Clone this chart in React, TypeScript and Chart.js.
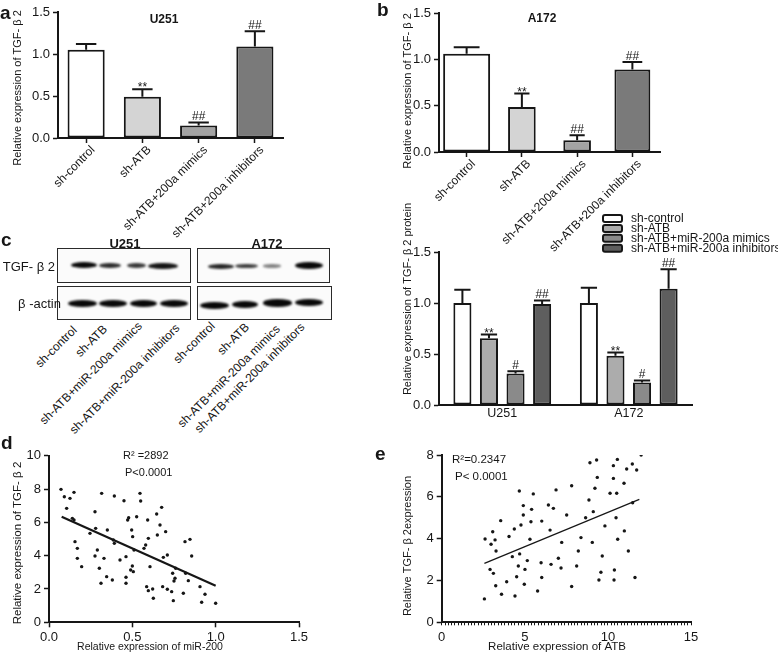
import React, { useEffect, useRef } from "react";
import { Chart, registerables } from "chart.js";

Chart.register(...registerables);

const FONT = '"Liberation Sans", Arial, Helvetica, sans-serif';
const INK = "#161616";
Chart.defaults.font.family = FONT;
Chart.defaults.color = INK;

// ---------------- data ----------------
const rnaGroups = ["sh-control", "sh-ATB", "sh-ATB+200a mimics", "sh-ATB+200a inhibitors"];
const rnaYTicks = [0, 0.5, 1.0, 1.5];

const u251Rna = [1.05, 0.49, 0.15, 1.09];
const u251RnaErr = [0.07, 0.09, 0.035, 0.18];
const u251RnaMarks = ["", "**", "##", "##"];

const a172Rna = [1.06, 0.485, 0.126, 0.89];
const a172RnaErr = [0.07, 0.145, 0.055, 0.08];
const a172RnaMarks = ["", "**", "##", "##"];

const proteinCells = ["U251", "A172"];
const proteinGroups = ["sh-control", "sh-ATB", "sh-ATB+miR-200a mimics", "sh-ATB+miR-200a inhibitors"];
const proteinControl = [1.0, 1.0];
const proteinShATB = [0.655, 0.484];
const proteinMimics = [0.31, 0.22];
const proteinInhibitors = [0.99, 1.14];
const proteinControlErr = [0.13, 0.15];
const proteinShATBErr = [0.035, 0.03];
const proteinMimicsErr = [0.02, 0.02];
const proteinInhibitorsErr = [0.035, 0.19];
const proteinControlMarks = ["", ""];
const proteinShATBMarks = ["**", "**"];
const proteinMimicsMarks = ["#", "#"];
const proteinInhibitorsMarks = ["##", "##"];

// western blot band intensities (relative darkness)
const tgfU251Band = [1.0, 0.85, 0.8, 0.95];
const actinU251Band = [1, 1, 1, 1];
const tgfA172Band = [0.88, 0.78, 0.5, 1.0];
const actinA172Band = [1, 1, 1, 1];

// panel d scatter
const dX = [0.072, 0.092, 0.106, 0.126, 0.15, 0.14, 0.15, 0.17, 0.196, 0.156, 0.17, 0.246, 0.276, 0.28, 0.29, 0.276, 0.302, 0.312, 0.316, 0.33, 0.35, 0.346, 0.38, 0.392, 0.386, 0.392, 0.426, 0.45, 0.462, 0.462, 0.462, 0.472, 0.478, 0.49, 0.496, 0.502, 0.5, 0.51, 0.506, 0.526, 0.546, 0.55, 0.57, 0.58, 0.592, 0.596, 0.586, 0.596, 0.606, 0.622, 0.626, 0.646, 0.65, 0.666, 0.676, 0.686, 0.682, 0.7, 0.71, 0.71, 0.736, 0.742, 0.75, 0.756, 0.746, 0.76, 0.806, 0.816, 0.82, 0.836, 0.846, 0.856, 0.906, 0.916, 0.936, 1.0];
const dY = [7.98, 7.54, 6.84, 7.44, 7.8, 6.24, 6.14, 3.84, 3.34, 4.84, 4.44, 5.34, 6.64, 5.64, 4.34, 3.98, 3.24, 2.34, 7.74, 3.84, 5.54, 2.74, 2.54, 7.58, 4.94, 4.74, 3.74, 7.3, 3.94, 2.7, 2.34, 6.14, 6.28, 3.14, 5.54, 5.14, 3.38, 4.34, 3.04, 6.34, 7.74, 7.28, 4.44, 4.64, 6.14, 5.04, 2.14, 1.9, 3.34, 2.0, 1.44, 6.5, 5.24, 5.84, 6.9, 3.9, 2.14, 5.44, 4.04, 1.98, 1.84, 2.94, 2.48, 2.64, 1.3, 3.24, 1.74, 4.84, 2.94, 2.5, 4.98, 3.98, 2.14, 1.2, 1.68, 1.14];
const dFitX = [0.076, 1.0];
const dFitY = [6.34, 2.2];
const dXTicks = [0, 0.5, 1.0, 1.5];
const dYTicks = [0, 2, 4, 6, 8, 10];

// panel e scatter
const eX = [2.57, 2.61, 2.91, 2.97, 3.07, 3.11, 3.21, 3.27, 3.25, 3.55, 3.6, 3.91, 4.05, 4.25, 4.37, 4.41, 4.51, 4.61, 4.67, 4.69, 4.77, 4.91, 4.91, 4.97, 5.01, 5.15, 5.31, 5.37, 5.41, 5.51, 5.77, 5.98, 6.02, 6.02, 6.42, 6.52, 6.58, 6.72, 6.88, 7.02, 7.22, 7.18, 7.52, 7.82, 7.82, 8.12, 8.22, 8.38, 8.66, 8.86, 8.92, 9.06, 9.12, 9.22, 9.32, 9.36, 9.46, 9.58, 9.66, 9.82, 10.13, 10.33, 10.33, 10.37, 10.39, 10.49, 10.53, 10.57, 10.59, 10.97, 10.99, 11.13, 11.23, 11.47, 11.49, 11.63, 11.73, 12.0];
const eY = [1.12, 3.98, 2.53, 3.73, 4.33, 2.34, 3.94, 3.41, 1.75, 4.86, 1.34, 1.94, 4.1, 3.14, 4.46, 1.26, 2.18, 2.69, 6.28, 3.27, 4.65, 5.58, 5.13, 1.82, 2.53, 2.95, 3.97, 4.81, 5.4, 6.14, 1.5, 2.85, 4.84, 2.14, 5.61, 4.41, 2.77, 5.45, 6.33, 3.06, 3.82, 2.6, 5.13, 1.71, 6.53, 2.69, 3.41, 4.05, 5.0, 5.85, 7.63, 3.82, 5.29, 6.41, 7.76, 6.93, 2.02, 2.39, 3.17, 4.61, 6.17, 7.49, 6.88, 2.02, 2.5, 5.0, 6.17, 7.79, 3.97, 6.65, 4.37, 7.33, 3.41, 7.57, 5.72, 2.14, 7.28, 8.0];
const eFitX = [2.57, 11.89];
const eFitY = [2.82, 5.88];
const eXTicks = [0, 5, 10, 15];
const eYTicks = [0, 2, 4, 6, 8];

// ---------------- styles ----------------
const rnaColors = ["#ffffff", "#d4d4d4", "#a3a3a3", "#7a7a7a"];
const proteinColors = ["#ffffff", "#acacac", "#8a8a8a", "#5e5e5e"];

// ---------------- plugin ----------------
const extrasPlugin = {
  id: "extras",
  afterDraw(chart: any, _args: any, opts: any) {
    const ctx = chart.ctx as CanvasRenderingContext2D;
    const yScale = chart.scales.y;
    if (opts.errors) {
      chart.data.datasets.forEach((ds: any, di: number) => {
        const meta = chart.getDatasetMeta(di);
        const errs = opts.errors[di] || [];
        const marks = (opts.marks && opts.marks[di]) || [];
        meta.data.forEach((el: any, i: number) => {
          const v = ds.data[i];
          if (v == null || errs[i] == null) return;
          const p = el.getProps(["x", "y", "width"], true);
          const yTop = yScale.getPixelForValue(v + errs[i]);
          const half = (p.width * (opts.capRatio ?? 0.5)) / 2;
          ctx.save();
          ctx.strokeStyle = INK;
          ctx.lineWidth = opts.errWidth ?? 2;
          ctx.beginPath();
          ctx.moveTo(p.x, p.y);
          ctx.lineTo(p.x, yTop);
          ctx.moveTo(p.x - half, yTop);
          ctx.lineTo(p.x + half, yTop);
          ctx.stroke();
          const m = marks[i];
          if (m) {
            ctx.fillStyle = INK;
            ctx.font = `${opts.markSize ?? 12}px ${FONT}`;
            ctx.textAlign = "center";
            ctx.textBaseline = "alphabetic";
            const dy = m.includes("*") ? 2 : -2.5;
            ctx.fillText(m, p.x, yTop + dy);
          }
          ctx.restore();
        });
      });
    }
    for (const t of opts.texts || []) {
      ctx.save();
      ctx.fillStyle = INK;
      ctx.font = `${t.bold ? "bold " : ""}${t.size}px ${FONT}`;
      ctx.textAlign = t.align || "center";
      ctx.textBaseline = "middle";
      ctx.translate(t.x, t.y);
      if (t.rotate) ctx.rotate((t.rotate * Math.PI) / 180);
      ctx.fillText(t.text, 0, 0);
      ctx.restore();
    }
    if (opts.legend) {
      const L = opts.legend;
      chart.data.datasets.forEach((ds: any, i: number) => {
        const cy = L.y0 + i * L.dy;
        ctx.save();
        ctx.fillStyle = ds.backgroundColor;
        ctx.strokeStyle = INK;
        ctx.lineWidth = 2;
        ctx.beginPath();
        (ctx as any).roundRect(L.x, cy - L.boxH / 2, L.boxW, L.boxH, 2);
        ctx.fill();
        ctx.stroke();
        ctx.fillStyle = INK;
        ctx.font = `${L.size}px ${FONT}`;
        ctx.textAlign = "left";
        ctx.textBaseline = "middle";
        ctx.fillText(ds.label, L.textX, cy + 0.5);
        ctx.restore();
      });
    }
  },
};

const axisGrid = (len: number, offset = false) => ({
  display: true,
  drawOnChartArea: false,
  drawTicks: len > 0,
  tickLength: len,
  offset,
  color: INK,
  tickWidth: 1.5,
});
const axisBorder = { color: INK, width: 2 };

function setTicks(list: number[]) {
  return (s: any) => {
    s.ticks = list.map((v) => ({ value: v }));
  };
}

function baseOptions(pad: any, plugins: any, scales: any) {
  return {
    responsive: false,
    animation: false,
    devicePixelRatio: 1,
    layout: { padding: pad },
    plugins: { legend: { display: false }, tooltip: { enabled: false }, extras: plugins },
    scales,
  };
}

function rnaBarConfig(
  values: number[],
  errs: number[],
  marks: string[],
  yWidth: number,
  xHeight: number,
  pad: any,
  texts: any[],
  barPcts: number[]
) {
  const datasets = values.map((v, i) => ({
    label: rnaGroups[i],
    data: values.map((_, j) => (j === i ? v : null)),
    backgroundColor: rnaColors[i],
    borderColor: INK,
    borderWidth: 2,
    borderSkipped: false,
    barPercentage: barPcts[i],
    categoryPercentage: 1,
    grouped: false,
  }));
  return {
    type: "bar",
    data: { labels: rnaGroups, datasets },
    options: baseOptions(
      pad,
      {
        errors: values.map((_, i) => values.map((__, j) => (j === i ? errs[i] : null))),
        marks: values.map((_, i) => values.map((__, j) => (j === i ? marks[i] : ""))),
        capRatio: 0.55,
        texts,
      },
      {
        x: {
          grid: axisGrid(5, false),
          border: axisBorder,
          ticks: { font: { size: 12 }, color: INK, minRotation: 45, maxRotation: 45, padding: 0, autoSkip: false, labelOffset: 7 },
          afterFit: (s: any) => {
            s.height = xHeight;
          },
        },
        y: {
          min: 0,
          max: 1.5,
          afterBuildTicks: setTicks(rnaYTicks),
          grid: axisGrid(5),
          border: axisBorder,
          ticks: { font: { size: 13 }, color: INK, padding: 3, callback: (v: any) => Number(v).toFixed(1) },
          afterFit: (s: any) => {
            s.width = yWidth;
          },
        },
      }
    ),
  };
}

const configA = () =>
  rnaBarConfig(u251Rna, u251RnaErr, u251RnaMarks, 58, 102, { top: 12, right: 17, left: 0, bottom: 0 }, [
    { text: "U251", x: 164, y: 20, size: 12, bold: true },
    { text: "Relative expression of TGF- β 2", x: 18, y: 88, size: 11, rotate: -90 },
  ], [0.66, 0.66, 0.66, 0.66]);

const configB = () =>
  rnaBarConfig(a172Rna, a172RnaErr, a172RnaMarks, 59, 103, { top: 13, right: 10, left: 0, bottom: 0 }, [
    { text: "A172", x: 162, y: 19, size: 12, bold: true },
    { text: "Relative expression of TGF- β 2", x: 27.5, y: 91, size: 11, rotate: -90 },
  ], [0.85, 0.5, 0.5, 0.65]);

const configC = () => ({
  type: "bar",
  data: {
    labels: proteinCells,
    datasets: [proteinControl, proteinShATB, proteinMimics, proteinInhibitors].map((d, i) => ({
      label: proteinGroups[i],
      data: d,
      backgroundColor: proteinColors[i],
      borderColor: INK,
      borderWidth: 2,
      borderSkipped: false,
      barPercentage: 0.68,
      categoryPercentage: 0.84,
    })),
  },
  options: baseOptions(
    { top: 57, right: 86, left: 0, bottom: 0 },
    {
      errors: [proteinControlErr, proteinShATBErr, proteinMimicsErr, proteinInhibitorsErr],
      marks: [proteinControlMarks, proteinShATBMarks, proteinMimicsMarks, proteinInhibitorsMarks],
      capRatio: 0.9,
      texts: [{ text: "Relative expression of TGF- β 2 protein", x: 17.5, y: 104, size: 11, rotate: -90 }],
      legend: { x: 213, y0: 23.5, dy: 9.9, boxW: 19, boxH: 7, textX: 241, size: 12 },
    },
    {
      x: {
        grid: axisGrid(0),
        border: axisBorder,
        ticks: { font: { size: 12.5 }, color: INK, padding: 1, maxRotation: 0 },
        afterFit: (s: any) => {
          s.height = 20;
        },
      },
      y: {
        min: 0,
        max: 1.5,
        afterBuildTicks: setTicks(rnaYTicks),
        grid: axisGrid(5),
        border: axisBorder,
        ticks: { font: { size: 13 }, color: INK, padding: 3, callback: (v: any) => Number(v).toFixed(1) },
        afterFit: (s: any) => {
          s.width = 49;
        },
      },
    }
  ),
});

function scatterConfig(
  xs: number[],
  ys: number[],
  fx: number[],
  fy: number[],
  lineW: number,
  xr: [number, number],
  yr: [number, number],
  xTicks: number[],
  yTicks: number[],
  xMinorStep: number | null,
  xFmt: (v: number) => string,
  yWidth: number,
  pad: any,
  texts: any[]
) {
  const xBuild = (s: any) => {
    if (xMinorStep) {
      const out: any[] = [];
      const n = Math.round((xr[1] - xr[0]) / xMinorStep);
      for (let k = 0; k <= n; k++) out.push({ value: xr[0] + k * xMinorStep });
      s.ticks = out;
    } else s.ticks = xTicks.map((v) => ({ value: v }));
  };
  return {
    type: "scatter",
    data: {
      datasets: [
        {
          label: "samples",
          data: xs.map((x, i) => ({ x, y: ys[i] })),
          pointRadius: 1.7,
          pointBackgroundColor: INK,
          pointBorderWidth: 0,
        },
        {
          label: "fit",
          data: fx.map((x, i) => ({ x, y: fy[i] })),
          showLine: true,
          borderColor: INK,
          borderWidth: lineW,
          pointRadius: 0,
        },
      ],
    },
    options: baseOptions(pad, { texts }, {
      x: {
        type: "linear",
        min: xr[0],
        max: xr[1],
        afterBuildTicks: xBuild,
        grid: { ...axisGrid(xMinorStep ? 3 : 5), tickWidth: xMinorStep ? 1 : 1.5 },
        border: axisBorder,
        ticks: {
          font: { size: 13 },
          color: INK,
          padding: xMinorStep ? 4 : 2,
          autoSkip: false,
          maxRotation: 0,
          callback: (v: any) => {
            const val = Number(v);
            return xTicks.some((t) => Math.abs(t - val) < 1e-6) ? xFmt(val) : "";
          },
        },
        afterFit: (s: any) => {
          s.height = 35.7;
        },
      },
      y: {
        type: "linear",
        min: yr[0],
        max: yr[1],
        afterBuildTicks: setTicks(yTicks),
        grid: axisGrid(5),
        border: axisBorder,
        ticks: { font: { size: 13 }, color: INK, padding: 3 },
        afterFit: (s: any) => {
          s.width = yWidth;
        },
      },
    }),
  };
}

const configD = () =>
  scatterConfig(dX, dY, dFitX, dFitY, 2.2, [0, 1.5], [0, 10], dXTicks, dYTicks, null, (v) => v.toFixed(1), 49,
    { top: 18.7, right: 91, left: 0, bottom: 0 },
    [
      { text: "Relative expression of TGF- β 2", x: 17.5, y: 106, size: 11.5, rotate: -90 },
      { text: "Relative expression of miR-200", x: 150, y: 210, size: 10.5 },
      { text: "R² =2892", x: 123, y: 19, size: 11, align: "left" },
      { text: "P<0.0001", x: 125, y: 36, size: 11, align: "left" },
    ]);

const configE = () =>
  scatterConfig(eX, eY, eFitX, eFitY, 1.2, [0, 15], [0, 8], eXTicks, eYTicks, 0.2, (v) => String(v), 51.7,
    { top: 18, right: 87, left: 0, bottom: 0 },
    [
      { text: "Relative TGF- β 2expression", x: 17.5, y: 109, size: 11, rotate: -90 },
      { text: "Relative expression of ATB", x: 167, y: 210, size: 11.5 },
      { text: "R²=0.2347", x: 62, y: 23, size: 11.5, align: "left" },
      { text: "P< 0.0001", x: 65, y: 40, size: 11.5, align: "left" },
    ]);

function ChartBox(props: { left: number; top: number; width: number; height: number; make: () => any }) {
  const ref = useRef<HTMLCanvasElement>(null);
  useEffect(() => {
    const cfg = props.make();
    cfg.plugins = [extrasPlugin];
    const chart = new Chart(ref.current as HTMLCanvasElement, cfg);
    return () => chart.destroy();
  }, []);
  return (
    <canvas
      ref={ref}
      width={props.width}
      height={props.height}
      style={{ position: "absolute", left: props.left, top: props.top, width: props.width, height: props.height }}
    />
  );
}

// ---------------- blot layout ----------------
const tgfU251Geo = [[71, 97, 265, 6], [99, 121, 265, 5], [127, 146, 265.5, 5], [148, 178, 266, 6.5]];
const tgfA172Geo = [[208, 234, 266, 5], [235, 258, 266, 4.5], [263, 281, 266, 3.5], [295, 323, 265.5, 7]];
const actU251Geo = [[68, 97, 303, 7], [99, 127, 303, 7], [130, 157, 303, 7], [160, 188, 303.5, 7]];
const actA172Geo = [[200, 229, 305, 7], [232, 258, 304, 7], [263, 292, 303, 7.5], [295, 323, 302, 7]];
const laneEndsU251 = [[75, 328], [105, 327], [140, 324], [178, 326]];
const laneEndsA172 = [[213, 324], [247, 325], [278, 327], [303, 325]];

function Bands({ geo, level }: { geo: number[][]; level: number[] }) {
  return (
    <>
      {geo.map(([x0, x1, yc, h], i) => (
        <div
          key={i}
          style={{
            position: "absolute",
            left: x0,
            top: yc - h / 2,
            width: x1 - x0,
            height: h,
            background: `rgba(8,8,8,${level[i]})`,
            borderRadius: "50%",
            filter: "blur(1.1px)",
          }}
        />
      ))}
    </>
  );
}

const textBase: React.CSSProperties = { position: "absolute", fontFamily: FONT, color: INK, whiteSpace: "nowrap" };

function LaneLabels({ ends }: { ends: number[][] }) {
  return (
    <>
      {ends.map(([x, y], i) => (
        <div key={i} style={{ position: "absolute", left: x, top: y, width: 0, height: 0 }}>
          <span
            style={{
              ...textBase,
              right: 0,
              top: -7,
              fontSize: 12,
              lineHeight: "14px",
              transformOrigin: "100% 50%",
              transform: "rotate(-45deg)",
            }}
          >
            {proteinGroups[i]}
          </span>
        </div>
      ))}
    </>
  );
}

const boxStyle = (left: number, top: number, w: number, h: number): React.CSSProperties => ({
  position: "absolute",
  left,
  top,
  width: w,
  height: h,
  boxSizing: "border-box",
  border: "1.5px solid #2a2a2a",
  background: "#fbfbfb",
});

function Letter({ ch, x, base }: { ch: string; x: number; base: number }) {
  return (
    <div style={{ ...textBase, left: x, top: base - 16, fontSize: 19, fontWeight: "bold", lineHeight: "19px" }}>{ch}</div>
  );
}

export default function App() {
  return (
    <div style={{ position: "absolute", left: 0, top: 0, width: 778, height: 658, background: "#fff", overflow: "hidden" }}>
      <ChartBox left={0} top={0} width={300} height={240} make={configA} />
      <ChartBox left={380} top={0} width={290} height={255} make={configB} />
      <ChartBox left={390} top={195} width={388} height={230} make={configC} />
      <ChartBox left={0} top={437} width={390} height={221} make={configD} />
      <ChartBox left={390} top={437} width={388} height={221} make={configE} />

      {/* western blot */}
      <div style={boxStyle(57, 248, 134, 35)} />
      <div style={boxStyle(197, 248, 133, 35)} />
      <div style={boxStyle(57, 286, 134, 34)} />
      <div style={boxStyle(197, 286, 135, 34)} />
      <Bands geo={tgfU251Geo} level={tgfU251Band} />
      <Bands geo={tgfA172Geo} level={tgfA172Band} />
      <Bands geo={actU251Geo} level={actinU251Band} />
      <Bands geo={actA172Geo} level={actinA172Band} />
      <div style={{ ...textBase, left: 100, top: 236, width: 50, textAlign: "center", fontSize: 13, fontWeight: "bold" }}>U251</div>
      <div style={{ ...textBase, left: 242, top: 236, width: 50, textAlign: "center", fontSize: 13, fontWeight: "bold" }}>A172</div>
      <div style={{ ...textBase, left: 0, top: 259, width: 55, textAlign: "right", fontSize: 13 }}>TGF- β 2</div>
      <div style={{ ...textBase, left: 0, top: 296, width: 61, textAlign: "right", fontSize: 13 }}>β -actin</div>
      <LaneLabels ends={laneEndsU251} />
      <LaneLabels ends={laneEndsA172} />

      <Letter ch="a" x={0} base={19} />
      <Letter ch="b" x={377} base={16} />
      <Letter ch="c" x={1} base={246} />
      <Letter ch="d" x={1} base={449} />
      <Letter ch="e" x={375} base={460} />
    </div>
  );
}
